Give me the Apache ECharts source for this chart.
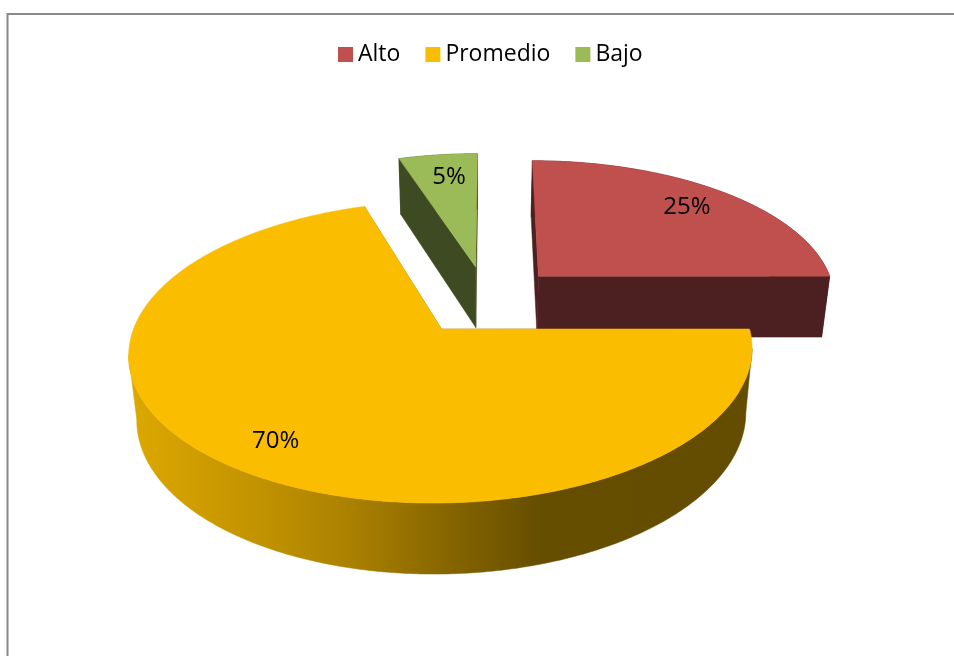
<!DOCTYPE html>
<html>
<head>
<meta charset="utf-8">
<style>
  html, body { margin: 0; padding: 0; background: #fff; }
  #chart { width: 954px; height: 656px; }
</style>
<script src="https://cdn.jsdelivr.net/npm/echarts@6/dist/echarts.min.js"></script>
</head>
<body>
<div id="chart"></div>
<script>
const categories = ["Alto", "Promedio", "Bajo"];
const shares = [25, 70, 5];

const TOP_COLORS = ["#C0504D", "#FBBD00", "#9BBB59"];
const SIDE_COLORS = ["#4C1F20", null, "#3E4A22"];
const FONT = "'Open Sans', sans-serif";
// 标签在扇区内的径向位置和微调
const LABEL_RADIUS = [0.81, 0.83, 0.79];
const LABEL_SHIFT = [[-2, 1], [7, 2], [4, 1]];

// 透视参数
const VIEW = {
  originX: 441.5, originY: 329, vanishX: 490, nadirX: 480,
  radiusX: 308, radiusY: 147.6, perspective: 0.152,
  centerU: 0.147, centerV: 0.202, explode: 0.25,
  shrink: 0.977, depthBase: 20.6, depthScale: 42.7,
};

const total = shares.reduce((a, b) => a + b, 0);

// 地面坐标投影到屏幕
const project = (u, v, lower) => {
  const s = 1 / (1 + VIEW.perspective * v);
  const x = VIEW.vanishX + (VIEW.originX - VIEW.vanishX + VIEW.radiusX * u) * s;
  const y = VIEW.originY - VIEW.radiusY * v * s;
  if (!lower) return [x, y];
  return [
    VIEW.nadirX + (x - VIEW.nadirX) * VIEW.shrink,
    y + VIEW.depthBase + VIEW.depthScale * s,
  ];
};

// 角度从正上方顺时针计算
const slicePoint = (apex, angle, r, lower) =>
  project(apex[0] + r * Math.sin(angle), apex[1] + r * Math.cos(angle), lower);

const wallFill = (index) => {
  if (SIDE_COLORS[index]) return SIDE_COLORS[index];
  const x0 = 130, x1 = 752;
  const stop = (x, color) => ({ offset: (x - x0) / (x1 - x0), color });
  return new echarts.graphic.LinearGradient(x0, 0, x1, 0, [
    stop(130, "#DCA800"),
    stop(250, "#C49400"),
    stop(350, "#AB8100"),
    stop(450, "#866500"),
    stop(540, "#664E00"),
    stop(752, "#644C00"),
  ], true);
};

// 取弧线在水平方向两个极值之间的那一段
const visibleArc = (arc) => {
  const xs = arc.map(p => p[0]);
  const iMax = xs.indexOf(Math.max(...xs));
  const iMin = xs.indexOf(Math.min(...xs));
  return arc.slice(Math.min(iMax, iMin), Math.max(iMax, iMin) + 1);
};

const renderSlice = (index) => (params, api) => {
  const value = api.value(0);
  const before = shares.slice(0, index).reduce((a, b) => a + b, 0);
  const start = (before / total) * Math.PI * 2;
  const end = ((before + value) / total) * Math.PI * 2;
  const mid = (start + end) / 2;
  const apex = [
    VIEW.centerU + VIEW.explode * Math.sin(mid),
    VIEW.centerV + VIEW.explode * Math.cos(mid),
  ];

  const top = [], bottom = [];
  const steps = Math.ceil((end - start) / 0.01);
  for (let i = 0; i <= steps; i++) {
    const a = start + ((end - start) * i) / steps;
    top.push(slicePoint(apex, a, 1, false));
    bottom.push(slicePoint(apex, a, 1, true));
  }
  const apexTop = project(apex[0], apex[1], false);
  const apexBottom = project(apex[0], apex[1], true);
  const side = wallFill(index);
  const polygon = (points, fill) => ({
    type: "polygon",
    shape: { points },
    style: { fill, stroke: fill, lineWidth: 0.5 },
  });

  const labelPos = slicePoint(apex, mid, LABEL_RADIUS[index], false);
  return {
    type: "group",
    children: [
      polygon(visibleArc(top).concat(visibleArc(bottom).reverse()), side),
      polygon([apexTop, top[0], bottom[0], apexBottom], side),
      polygon([apexTop, top[steps], bottom[steps], apexBottom], side),
      polygon([apexTop].concat(top), TOP_COLORS[index]),
      {
        type: "text",
        x: labelPos[0] + LABEL_SHIFT[index][0],
        y: labelPos[1] + LABEL_SHIFT[index][1],
        style: {
          text: Math.round((value / total) * 100) + "%",
          fill: "#000",
          font: "24px " + FONT,
          align: "center",
          verticalAlign: "middle",
        },
      },
    ],
  };
};

const chart = echarts.init(document.getElementById("chart"));

chart.setOption({
  animation: false,
  backgroundColor: "#fff",
  legend: {
    data: categories,
    left: 338,
    top: 43,
    padding: 0,
    icon: "rect",
    itemWidth: 15,
    itemHeight: 15,
    itemGap: 25,
    textStyle: { color: "#000", fontFamily: FONT, fontSize: 23 },
    selectedMode: false,
  },
  graphic: [
    {
      type: "rect",
      silent: true,
      shape: { x: 7.5, y: 14, width: 1000, height: 700 },
      style: { fill: "none", stroke: "#8A8A8A", lineWidth: 2 },
    },
  ],
  // 主扇区压在爆炸出去的两块上面
  series: categories.map((name, index) => ({
    name,
    type: "custom",
    coordinateSystem: "none",
    z: index === 1 ? 3 : 2,
    itemStyle: { color: TOP_COLORS[index] },
    renderItem: renderSlice(index),
    data: [[shares[index]]],
  })),
});
</script>
</body>
</html>
